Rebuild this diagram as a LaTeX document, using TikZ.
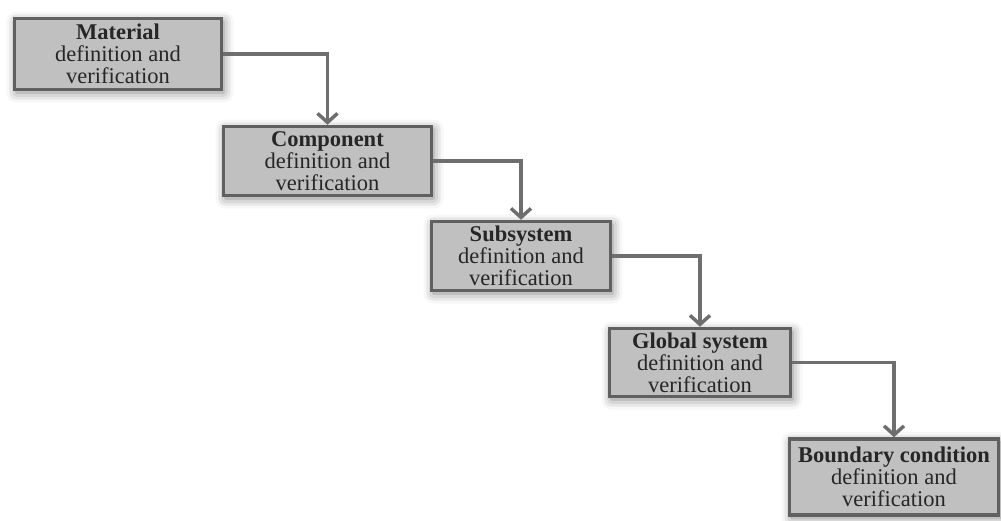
\documentclass[tikz,border=0pt]{standalone}
\usepackage{fontspec}
\setmainfont{Liberation Serif}
\usepackage{tikz}
\usetikzlibrary{arrows.meta}
\usetikzlibrary{shadows.blur}

\definecolor{boxfill}{RGB}{192,192,192}
\definecolor{boxline}{RGB}{96,96,96}
\definecolor{flowline}{RGB}{110,110,110}

\begin{document}
\begin{tikzpicture}[x=1pt,y=1pt,
  stagebox/.style={rectangle,draw=boxline,fill=boxfill,line width=3.5pt,align=center,
    font=\fontsize{22.5}{22}\selectfont,text=black!85,inner sep=0pt,
    blur shadow={shadow xshift=2pt,shadow yshift=-3pt,shadow blur radius=10pt,shadow opacity=50}},
  flow/.style={draw=flowline,line width=3.5pt,-{Straight Barb[length=9pt,width=20pt]}}]
\useasboundingbox (0,0) rectangle (1001,-520);
\node[stagebox,minimum width=207pt,minimum height=71pt] (mat) at (118,-54) {\textbf{Material}\\definition and\\verification};
\node[stagebox,minimum width=208pt,minimum height=69pt] (comp) at (327.5,-161) {\textbf{Component}\\definition and\\verification};
\node[stagebox,minimum width=179pt,minimum height=69pt] (sub) at (521,-256) {\textbf{Subsystem}\\definition and\\verification};
\node[stagebox,minimum width=181pt,minimum height=68pt] (glob) at (700,-362.5) {\textbf{Global system}\\definition and\\verification};
\node[stagebox,minimum width=209pt,minimum height=76pt] (bound) at (894,-477) {\textbf{Boundary condition}\\definition and\\verification};

\draw[flow] (mat.east) -| (comp.north);
\draw[flow] (comp.east) -| (sub.north);
\draw[flow] (sub.east) -| (glob.north);
\draw[flow] (glob.east) -| (bound.north);
\end{tikzpicture}
\end{document}
